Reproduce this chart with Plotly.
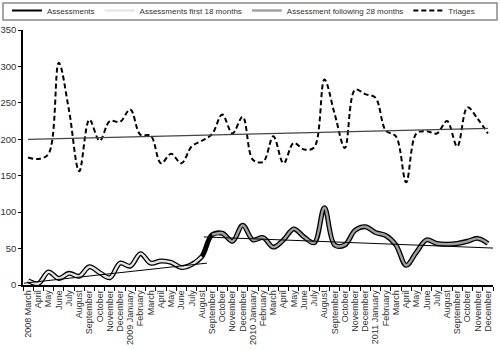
import plotly.graph_objects as go

months = ["2008 March", "April", "May", "June", "July", "August", "September", "October",
          "November", "December", "2009 January", "February", "March", "April", "May", "June",
          "July", "August", "September", "October", "November", "December", "2010 January",
          "February", "March", "April", "May", "June", "July", "August", "September", "October",
          "November", "December", "2011 January", "February", "March", "April", "May", "June",
          "July", "August", "September", "October", "November", "December"]

assessments = [6, 2, 18, 9, 16, 12, 25, 17, 10, 30, 26, 43, 30, 33, 31, 24, 28, 39,
               69, 71, 60, 82, 62, 65, 52, 62, 77, 66, 58, 106, 55, 55, 75, 80, 72, 68,
               55, 27, 45, 62, 57, 56, 57, 60, 64, 57]

triages = [175, 173, 180, 305, 240, 156, 227, 198, 225, 224, 241, 206, 205, 167, 180, 167,
           190, 198, 207, 234, 208, 231, 172, 169, 204, 167, 195, 186, 189, 282, 235, 188,
           268, 262, 257, 212, 204, 141, 208, 211, 208, 225, 190, 244, 228, 208]

n_first = 18  # first 18 months, then following 28 months

# trend lines (end points: category position, value)
trend_first_x = [-0.4, 17.5]
trend_first_y = [2.5, 30]
trend_follow_x = [17.2, 45.5]
trend_follow_y = [66, 50.7]
trend_triage_x = [0, 45]
trend_triage_y = [200, 215]

x = list(range(len(months)))
FONT = "Liberation Sans, Arial, sans-serif"

fig = go.Figure()
# plotted assessment line (thick black base), legend shown by a thin entry
fig.add_trace(go.Scatter(x=x, y=assessments, mode="lines", name="Assessments",
                         legendgroup="a", showlegend=False,
                         line=dict(color="black", width=5, shape="spline")))
fig.add_trace(go.Scatter(x=[None], y=[None], mode="lines", name="Assessments",
                         legendgroup="a", line=dict(color="black", width=2)))
fig.add_trace(go.Scatter(x=x[:n_first], y=assessments[:n_first], mode="lines",
                         name="Assessments first 18 months",
                         line=dict(color="#e6e6e6", width=2.4, shape="spline")))
fig.add_trace(go.Scatter(x=x[n_first:], y=assessments[n_first:], mode="lines",
                         name="Assessment following 28 months",
                         line=dict(color="#a0a0a0", width=2.4, shape="spline")))
fig.add_trace(go.Scatter(x=x, y=triages, mode="lines", name="Triages",
                         line=dict(color="black", width=2, dash="5px,3px", shape="spline")))
fig.add_trace(go.Scatter(x=trend_first_x, y=trend_first_y, mode="lines", showlegend=False,
                         line=dict(color="black", width=1)))
fig.add_trace(go.Scatter(x=trend_follow_x, y=trend_follow_y, mode="lines", showlegend=False,
                         line=dict(color="black", width=1)))
fig.add_trace(go.Scatter(x=trend_triage_x, y=trend_triage_y, mode="lines", showlegend=False,
                         line=dict(color="#444", width=1.2)))

L, R, T, B = 23, 7, 30, 65
PW, PH = 500 - L - R, 350 - T - B

fig.update_layout(
    width=500, height=350,
    margin=dict(l=L, r=R, t=T, b=B, autoexpand=False),
    paper_bgcolor="white", plot_bgcolor="white",
    font=dict(family=FONT, size=10, color="#333"),
    showlegend=True,
    legend=dict(orientation="h", x=-16 / PW, y=1 + 34 / PH, xanchor="left", yanchor="top",
                borderwidth=0, font=dict(size=8, color="#333"),
                bgcolor="rgba(0,0,0,0)", itemwidth=30, tracegroupgap=0),
    shapes=[dict(type="rect", xref="paper", yref="paper",
                 x0=-(L - 3) / PW, x1=(497 - L) / PW, y0=1 + 10 / PH, y1=1 + 27 / PH,
                 line=dict(color="#888", width=1.5), fillcolor="rgba(0,0,0,0)")],
    xaxis=dict(range=[-0.5, 45.5], tickmode="array", tickvals=x, ticktext=months,
               tickangle=-90, tickfont=dict(size=9, color="#333"), ticks="",
               showline=True, linecolor="black", linewidth=1.5, showgrid=False, zeroline=False,
               minor=dict(tickmode="linear", tick0=-0.5, dtick=1, ticks="outside",
                          ticklen=4, tickcolor="black", tickwidth=1, showgrid=False)),
    yaxis=dict(range=[0, 350], dtick=50, ticks="outside", ticklen=3, tickcolor="black",
               showline=True, linecolor="black", linewidth=1.5, showgrid=False, zeroline=False,
               tickfont=dict(size=9.5, color="#333")),
)

fig.write_html("out.html", config={"displayModeBar": False},
               post_script="document.body.style.margin='0';")
